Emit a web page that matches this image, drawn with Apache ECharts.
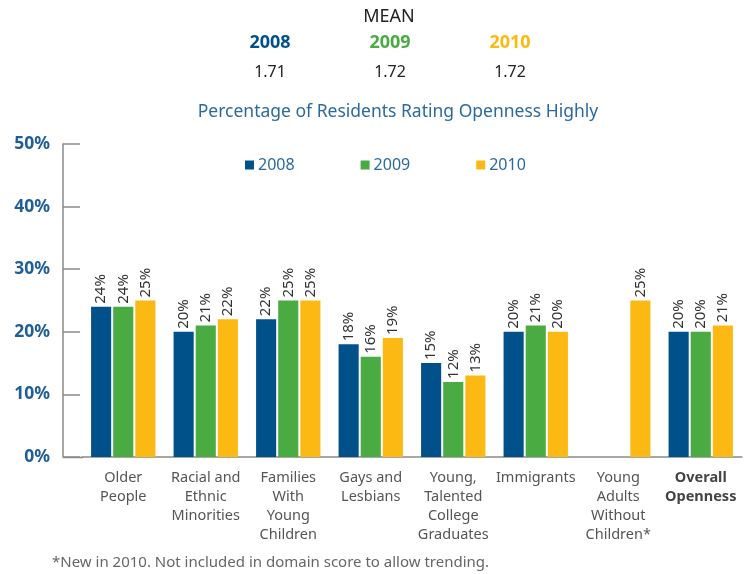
<!DOCTYPE html>
<html>
<head>
<meta charset="utf-8">
<script src="https://cdn.jsdelivr.net/npm/echarts@6/dist/echarts.min.js"></script>
<style>
  html, body { margin: 0; padding: 0; background: #fff; }
  #chart { width: 751px; height: 574px; }
</style>
</head>
<body>
<div id="chart"></div>
<script>
// data
var categories = ['Older\nPeople', 'Racial and\nEthnic\nMinorities', 'Families\nWith\nYoung\nChildren',
    'Gays and\nLesbians', 'Young,\nTalented\nCollege\nGraduates', 'Immigrants',
    'Young\nAdults\nWithout\nChildren*', 'Overall\nOpenness'];
var years = ['2008', '2009', '2010'];
var values2008 = [24, 20, 22, 18, 15, 20, null, 20];
var values2009 = [24, 21, 25, 16, 12, 21, null, 20];
var values2010 = [25, 22, 25, 19, 13, 20, 25, 21];
var means = ['1.71', '1.72', '1.72'];
var yTicks = [0, 10, 20, 30, 40, 50];

var colors = ['#00518a', '#4aab43', '#fdb913'];
var font = '"Noto Sans", Lato, sans-serif';

function makeSeries(name, data){
    return {
        name: name,
        type: 'bar',
        data: data,
        barGap: '10%',
        barCategoryGap: '22%',
        label: {
            show: true,
            position: 'top',
            rotate: 90,
            align: 'left',
            verticalAlign: 'middle',
            distance: 3,
            formatter: '{c}%',
            color: '#333',
            fontSize: 15,
            fontFamily: font
        }
    };
}

var chart = echarts.init(document.getElementById('chart'));
var option = {
    color: colors,
    animation: false,
    textStyle: { fontFamily: font },
    grid: { left: 82, right: 9, top: 144, bottom: 117 },
    legend: {
        data: years,
        top: 152,
        left: 240,
        itemWidth: 9,
        itemHeight: 9,
        itemGap: 66,
        icon: 'rect',
        textStyle: { color: '#2a6a9e', fontSize: 16, fontFamily: font, padding: [0, 0, 0, -1] }
    },
    xAxis: {
        type: 'category',
        data: categories,
        axisLine: { lineStyle: { color: '#8a8a8a', width: 1.5 } },
        axisTick: { inside: true, length: 6, lineStyle: { color: '#8a8a8a', width: 1.5 } },
        axisLabel: {
            interval: 0,
            margin: 11,
            color: '#555',
            fontSize: 14.5,
            lineHeight: 19,
            fontFamily: font,
            formatter: function(v){
                if (v.indexOf('Overall') === 0) {
                    return '{b|' + v.split('\n').join('}\n{b|') + '}';
                }
                return v;
            },
            rich: { b: { fontWeight: 'bold', color: '#444', fontSize: 14.5, lineHeight: 19, fontFamily: font } }
        }
    },
    yAxis: {
        type: 'value',
        min: yTicks[0],
        max: yTicks[yTicks.length - 1],
        interval: 10,
        offset: 19,
        axisLine: { show: true, lineStyle: { color: '#8a8a8a', width: 1.5 } },
        axisTick: { show: true, inside: true, length: 17, lineStyle: { color: '#8a8a8a', width: 1.5 } },
        splitLine: { show: false },
        axisLabel: {
            formatter: '{value}%',
            margin: 13,
            color: '#1f5e96',
            fontSize: 17.5,
            fontWeight: 'bold',
            fontFamily: font
        }
    },
    graphic: [
        { type: 'line', shape: { x1: 63, y1: 457.5, x2: 83, y2: 457.5 }, style: { stroke: '#8a8a8a', lineWidth: 1.5 } },
        { type: 'text', x: 389, y: 17, style: { text: 'MEAN', fill: '#222', font: '18px ' + font, textAlign: 'center', textVerticalAlign: 'middle' } },
        { type: 'text', x: 270, y: 43, style: { text: years[0], fill: colors[0], font: 'bold 18px ' + font, textAlign: 'center', textVerticalAlign: 'middle' } },
        { type: 'text', x: 390, y: 43, style: { text: years[1], fill: colors[1], font: 'bold 18px ' + font, textAlign: 'center', textVerticalAlign: 'middle' } },
        { type: 'text', x: 510, y: 43, style: { text: years[2], fill: colors[2], font: 'bold 18px ' + font, textAlign: 'center', textVerticalAlign: 'middle' } },
        { type: 'text', x: 270, y: 72, style: { text: means[0], fill: '#222', font: '16px ' + font, textAlign: 'center', textVerticalAlign: 'middle' } },
        { type: 'text', x: 390, y: 72, style: { text: means[1], fill: '#222', font: '16px ' + font, textAlign: 'center', textVerticalAlign: 'middle' } },
        { type: 'text', x: 510, y: 72, style: { text: means[2], fill: '#222', font: '16px ' + font, textAlign: 'center', textVerticalAlign: 'middle' } },
        { type: 'text', x: 398, y: 112, style: { text: 'Percentage of Residents Rating Openness Highly', fill: '#2a6a9e', font: '17.5px ' + font, textAlign: 'center', textVerticalAlign: 'middle' } },
        { type: 'text', x: 52, y: 563, style: { text: '*New in 2010. Not included in domain score to allow trending.', fill: '#666', font: '15px ' + font, textAlign: 'left', textVerticalAlign: 'middle' } }
    ],
    series: [
        makeSeries(years[0], values2008),
        makeSeries(years[1], values2009),
        makeSeries(years[2], values2010)
    ]
};
chart.setOption(option);
window.addEventListener('resize', function(){ chart.resize(); });
</script>
</body>
</html>
